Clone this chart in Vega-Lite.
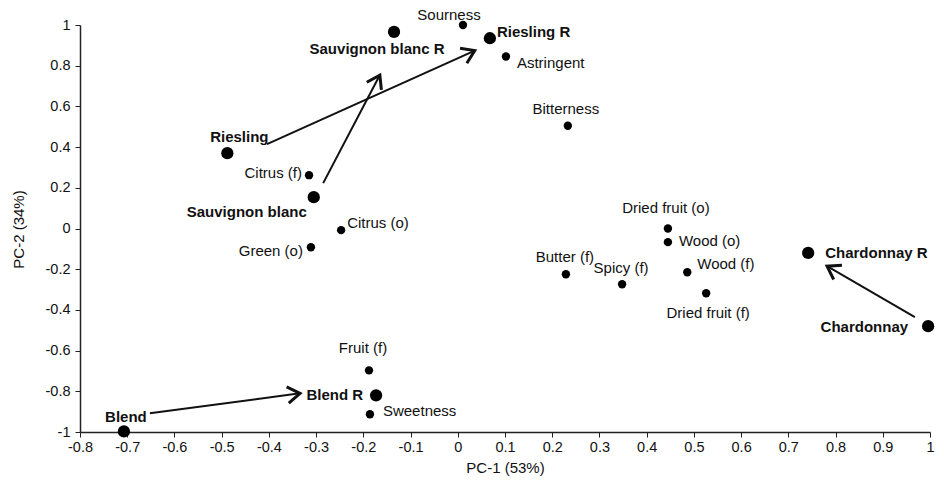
{
  "$schema": "https://vega.github.io/schema/vega-lite/v6.json",
  "width": 850,
  "height": 407,
  "autosize": {"type": "none"},
  "padding": {"left": 80, "top": 25, "right": 14, "bottom": 48},
  "background": "white",
  "config": {
    "view": {"stroke": null},
    "font": "Liberation Sans",
    "axis": {"grid": false, "domainColor": "#222", "domainWidth": 1.5, "tickColor": "#222", "tickWidth": 1, "tickSize": 5, "labelFont": "Liberation Sans", "labelFontSize": 14.5, "labelColor": "#111", "titleFont": "Liberation Sans", "titleFontSize": 15, "titleFontWeight": "normal", "titleColor": "#111"}
  },
  "datasets": {
    "pts": [
      {"name": "Sourness", "kind": "attr", "x": 0.011, "y": 1.0},
      {"name": "Riesling R", "kind": "wine", "x": 0.068, "y": 0.935},
      {"name": "Astringent", "kind": "attr", "x": 0.102, "y": 0.845},
      {"name": "Bitterness", "kind": "attr", "x": 0.233, "y": 0.505},
      {"name": "Sauvignon blanc R", "kind": "wine", "x": -0.135, "y": 0.966},
      {"name": "Riesling", "kind": "wine", "x": -0.488, "y": 0.37},
      {"name": "Citrus (f)", "kind": "attr", "x": -0.315, "y": 0.262},
      {"name": "Sauvignon blanc", "kind": "wine", "x": -0.305, "y": 0.154},
      {"name": "Citrus (o)", "kind": "attr", "x": -0.247, "y": -0.008},
      {"name": "Green (o)", "kind": "attr", "x": -0.311, "y": -0.092},
      {"name": "Dried fruit (o)", "kind": "attr", "x": 0.445, "y": 0.0},
      {"name": "Wood (o)", "kind": "attr", "x": 0.445, "y": -0.067},
      {"name": "Butter (f)", "kind": "attr", "x": 0.229, "y": -0.225},
      {"name": "Spicy (f)", "kind": "attr", "x": 0.348, "y": -0.274},
      {"name": "Wood (f)", "kind": "attr", "x": 0.486, "y": -0.215},
      {"name": "Dried fruit (f)", "kind": "attr", "x": 0.526, "y": -0.318},
      {"name": "Chardonnay R", "kind": "wine", "x": 0.742, "y": -0.12},
      {"name": "Chardonnay", "kind": "wine", "x": 0.996, "y": -0.48},
      {"name": "Fruit (f)", "kind": "attr", "x": -0.188, "y": -0.697},
      {"name": "Blend R", "kind": "wine", "x": -0.173, "y": -0.82},
      {"name": "Sweetness", "kind": "attr", "x": -0.186, "y": -0.913},
      {"name": "Blend", "kind": "wine", "x": -0.707, "y": -0.997}
    ],
    "arrows": [
      {"wine": "Riesling", "x": -0.404, "y": 0.415, "x2": 0.036, "y2": 0.874},
      {"wine": "Sauvignon blanc", "x": -0.285, "y": 0.223, "x2": -0.165, "y2": 0.754},
      {"wine": "Blend", "x": -0.652, "y": -0.908, "x2": -0.334, "y2": -0.81},
      {"wine": "Chardonnay", "x": 0.968, "y": -0.436, "x2": 0.782, "y2": -0.185}
    ]
  },
  "layer": [
    {
      "mark": {"type": "rule", "color": "#555", "strokeWidth": 2},
      "encoding": {"y": {"datum": 0, "type": "quantitative", "scale": {"domain": [-1, 1]}}}
    },
    {
      "mark": {"type": "rule", "color": "#555", "strokeWidth": 2},
      "encoding": {"x": {"datum": 0, "type": "quantitative", "scale": {"domain": [-0.8, 1]}}}
    },
    {
      "data": {"name": "arrows"},
      "mark": {"type": "rule", "color": "#111", "strokeWidth": 2},
      "encoding": {
        "x": {"field": "x", "type": "quantitative"},
        "y": {"field": "y", "type": "quantitative"},
        "x2": {"field": "x2"},
        "y2": {"field": "y2"}
      }
    },
    {
      "data": {"name": "arrows"},
      "transform": [{"calculate": "atan2((datum.x2-datum.x)*850/1.8, (datum.y2-datum.y)*407/2)*180/PI", "as": "ang"}],
      "mark": {"type": "point", "shape": "M-0.55,0.83L0,0L0.55,0.83", "filled": false, "color": "#111", "strokeWidth": 3, "size": 900, "opacity": 1, "strokeJoin": "miter"},
      "encoding": {
        "x": {"field": "x2", "type": "quantitative"},
        "y": {"field": "y2", "type": "quantitative"},
        "angle": {"field": "ang", "type": "quantitative", "scale": null}
      }
    },
    {
      "data": {"name": "pts"},
      "encoding": {
        "x": {"field": "x", "type": "quantitative", "scale": {"domain": [-0.8, 1], "nice": false},
          "axis": {"title": "PC-1 (53%)", "values": [-0.8,-0.75,-0.7,-0.65,-0.6,-0.55,-0.5,-0.45,-0.4,-0.35,-0.3,-0.25,-0.2,-0.15,-0.1,-0.05,0,0.05,0.1,0.15,0.2,0.25,0.3,0.35,0.4,0.45,0.5,0.55,0.6,0.65,0.7,0.75,0.8,0.85,0.9,0.95,1],
            "format": "~g", "labelExpr": "abs(round(datum.value*20)) % 2 == 0 ? replace(datum.label, '\u2212', '-') : ''",
            "labelPadding": 3, "labelFlush": false, "labelOverlap": false, "titleX": 425, "titleY": 35, "titleBaseline": "middle", "titleAnchor": null}},
        "y": {"field": "y", "type": "quantitative", "scale": {"domain": [-1, 1], "nice": false},
          "axis": {"title": "PC-2 (34%)", "values": [-1,-0.9,-0.8,-0.7,-0.6,-0.5,-0.4,-0.3,-0.2,-0.1,0,0.1,0.2,0.3,0.4,0.5,0.6,0.7,0.8,0.9,1],
            "format": "~g", "labelExpr": "abs(round(datum.value*10)) % 2 == 0 ? replace(datum.label, '\u2212', '-') : ''",
            "labelPadding": 5, "labelFlush": false, "labelOverlap": false, "titleX": -62, "titleY": 204, "titleAngle": -90, "titleAlign": "center", "titleBaseline": "middle", "titleAnchor": null}},
        "text": {"field": "name"}
      },
      "layer": [
        {"transform": [{"filter": "datum.kind == 'attr'"}], "mark": {"type": "circle", "size": 70, "color": "#000", "opacity": 1}},
        {"transform": [{"filter": "datum.kind == 'wine'"}], "mark": {"type": "circle", "size": 150, "color": "#000", "opacity": 1}},
        {"transform": [{"filter": "datum.name == 'Sourness'"}], "mark": {"type": "text", "align": "center", "baseline": "middle", "dx": -14, "dy": -10, "fontSize": 15, "color": "#111"}},
        {"transform": [{"filter": "datum.name == 'Riesling R'"}], "mark": {"type": "text", "align": "left", "baseline": "middle", "dx": 7, "dy": -6, "fontSize": 15, "fontWeight": "bold", "color": "#111"}},
        {"transform": [{"filter": "datum.name == 'Astringent'"}], "mark": {"type": "text", "align": "left", "baseline": "middle", "dx": 11, "dy": 6, "fontSize": 15, "color": "#111"}},
        {"transform": [{"filter": "datum.name == 'Bitterness'"}], "mark": {"type": "text", "align": "center", "baseline": "middle", "dx": -2, "dy": -17, "fontSize": 15, "color": "#111"}},
        {"transform": [{"filter": "datum.name == 'Sauvignon blanc R'"}], "mark": {"type": "text", "align": "center", "baseline": "middle", "dx": -17, "dy": 17, "fontSize": 15, "fontWeight": "bold", "color": "#111"}},
        {"transform": [{"filter": "datum.name == 'Riesling'"}], "mark": {"type": "text", "align": "center", "baseline": "middle", "dx": 12, "dy": -16, "fontSize": 15, "fontWeight": "bold", "color": "#111"}},
        {"transform": [{"filter": "datum.name == 'Citrus (f)'"}], "mark": {"type": "text", "align": "right", "baseline": "middle", "dx": -7, "dy": -2, "fontSize": 15, "color": "#111"}},
        {"transform": [{"filter": "datum.name == 'Sauvignon blanc'"}], "mark": {"type": "text", "align": "right", "baseline": "middle", "dx": -7, "dy": 15, "fontSize": 15, "fontWeight": "bold", "color": "#111"}},
        {"transform": [{"filter": "datum.name == 'Citrus (o)'"}], "mark": {"type": "text", "align": "left", "baseline": "middle", "dx": 6, "dy": -7, "fontSize": 15, "color": "#111"}},
        {"transform": [{"filter": "datum.name == 'Green (o)'"}], "mark": {"type": "text", "align": "right", "baseline": "middle", "dx": -8, "dy": 4, "fontSize": 15, "color": "#111"}},
        {"transform": [{"filter": "datum.name == 'Dried fruit (o)'"}], "mark": {"type": "text", "align": "center", "baseline": "middle", "dx": -2, "dy": -21, "fontSize": 15, "color": "#111"}},
        {"transform": [{"filter": "datum.name == 'Wood (o)'"}], "mark": {"type": "text", "align": "left", "baseline": "middle", "dx": 11, "dy": -1, "fontSize": 15, "color": "#111"}},
        {"transform": [{"filter": "datum.name == 'Butter (f)'"}], "mark": {"type": "text", "align": "center", "baseline": "middle", "dx": -1, "dy": -17, "fontSize": 15, "color": "#111"}},
        {"transform": [{"filter": "datum.name == 'Spicy (f)'"}], "mark": {"type": "text", "align": "center", "baseline": "middle", "dx": -1, "dy": -16, "fontSize": 15, "color": "#111"}},
        {"transform": [{"filter": "datum.name == 'Wood (f)'"}], "mark": {"type": "text", "align": "left", "baseline": "middle", "dx": 10, "dy": -8, "fontSize": 15, "color": "#111"}},
        {"transform": [{"filter": "datum.name == 'Dried fruit (f)'"}], "mark": {"type": "text", "align": "center", "baseline": "middle", "dx": 2, "dy": 20, "fontSize": 15, "color": "#111"}},
        {"transform": [{"filter": "datum.name == 'Chardonnay R'"}], "mark": {"type": "text", "align": "left", "baseline": "middle", "dx": 17, "dy": 0, "fontSize": 15, "fontWeight": "bold", "color": "#111"}},
        {"transform": [{"filter": "datum.name == 'Chardonnay'"}], "mark": {"type": "text", "align": "right", "baseline": "middle", "dx": -20, "dy": 1, "fontSize": 15, "fontWeight": "bold", "color": "#111"}},
        {"transform": [{"filter": "datum.name == 'Fruit (f)'"}], "mark": {"type": "text", "align": "center", "baseline": "middle", "dx": -6, "dy": -22, "fontSize": 15, "color": "#111"}},
        {"transform": [{"filter": "datum.name == 'Blend R'"}], "mark": {"type": "text", "align": "right", "baseline": "middle", "dx": -13, "dy": 0, "fontSize": 15, "fontWeight": "bold", "color": "#111"}},
        {"transform": [{"filter": "datum.name == 'Sweetness'"}], "mark": {"type": "text", "align": "left", "baseline": "middle", "dx": 13, "dy": -3, "fontSize": 15, "color": "#111"}},
        {"transform": [{"filter": "datum.name == 'Blend'"}], "mark": {"type": "text", "align": "center", "baseline": "middle", "dx": 2, "dy": -14, "fontSize": 15, "fontWeight": "bold", "color": "#111"}}
      ]
    }
  ]
}
